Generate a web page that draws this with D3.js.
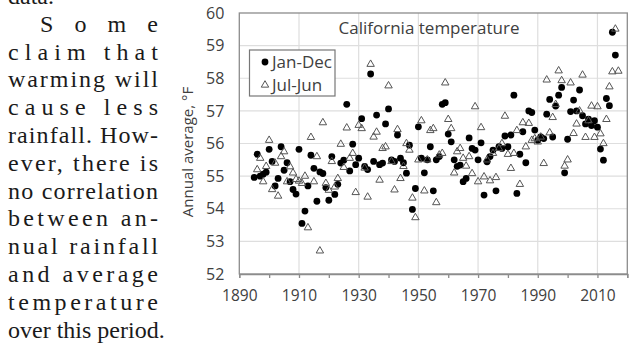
<!DOCTYPE html>
<html>
<head>
<meta charset="utf-8">
<script src="https://cdn.jsdelivr.net/npm/d3@7"></script>
<style>
  html, body { margin: 0; padding: 0; background: #fff; }
  svg { display: block; }
</style>
</head>
<body>
<div id="chart"></div>
<script>
// annual averages
const janDecYears = d3.range(1895, 2017);
const janDec = [
  54.96, 55.67, 55.00, 55.06, 55.12, 55.82, 55.45, 54.70, 54.93, 55.90,
  55.18, 55.41, 54.83, 54.59, 54.45, 55.82, 53.55, 53.93, 54.70, 55.64,
  55.24, 54.23, 55.13, 55.08, 54.65, 54.26, 55.60, 54.44, 54.75, 55.40,
  55.49, 57.20, 55.16, 55.98, 55.35, 55.55, 56.76, 55.30, 55.20, 58.13,
  55.45, 56.87, 55.35, 55.40, 56.60, 57.06, 55.50, 55.45, 56.26, 55.55,
  55.41, 55.09, 55.95, 53.98, 54.62, 56.51, 55.55, 55.10, 55.50, 55.90,
  54.55, 55.50, 55.60, 57.20, 57.25, 56.29, 56.05, 55.50, 55.30, 55.34,
  54.83, 54.93, 56.17, 55.85, 55.80, 55.50, 56.02, 54.42, 55.44, 55.60,
  55.80, 54.55, 55.90, 55.85, 56.23, 55.90, 56.26, 57.48, 54.47, 55.67,
  56.36, 55.41, 57.00, 56.95, 56.41, 56.10, 56.20, 56.15, 56.90, 57.35,
  56.20, 57.15, 57.48, 57.72, 55.10, 56.13, 56.98, 57.33, 57.00, 57.64,
  56.85, 56.60, 56.75, 56.55, 56.70, 56.50, 55.83, 55.49, 57.38, 57.16,
  59.41, 58.71
].slice(0, 122);
const julJunYears = d3.range(1896, 2018);
const julJun = [
  55.20, 55.55, 54.83, 55.30, 56.10, 54.59, 55.40, 54.39, 55.60, 55.75,
  54.83, 55.29, 55.10, 54.90, 54.85, 54.78, 55.00, 53.42, 56.19, 54.83,
  55.60, 52.71, 56.64, 54.78, 54.57, 55.45, 54.67, 54.93, 55.98, 55.27,
  56.48, 55.55, 55.70, 54.50, 56.56, 56.46, 55.25, 54.36, 58.43, 56.20,
  56.35, 54.88, 55.85, 55.90, 57.77, 55.45, 54.58, 56.43, 54.93, 55.30,
  56.00, 55.80, 54.33, 53.73, 55.50, 56.70, 54.55, 55.50, 56.40, 56.46,
  54.19, 55.65, 55.70, 57.86, 56.74, 56.46, 55.10, 55.75, 55.85, 55.55,
  55.31, 55.60, 55.08, 57.13, 54.83, 56.49, 54.98, 55.50, 54.86, 55.70,
  54.96, 55.85, 56.00, 56.84, 55.67, 55.24, 55.70, 56.40, 54.75, 56.64,
  55.90, 56.62, 56.10, 56.15, 56.05, 56.20, 55.39, 57.95, 56.33, 56.80,
  57.20, 58.23, 57.93, 55.31, 55.50, 57.86, 56.31, 56.60, 57.00, 58.10,
  56.19, 56.70, 57.15, 56.19, 57.13, 56.30, 56.00, 56.74, 57.74, 58.20,
  59.51, 58.22
];
const yTicks = [52, 53, 54, 55, 56, 57, 58, 59, 60];
const xLabelTicks = [1890, 1910, 1930, 1950, 1970, 1990, 2010];
const xMinorTicks = d3.range(1890, 2021, 10);
const seriesNames = ["Jan-Dec", "Jul-Jun"];

// the column of article text beside the chart
const textLines = [
  "data.", "Some", "claim that", "warming will", "cause less",
  "rainfall. How-", "ever, there is", "no correlation", "between an-",
  "nual rainfall", "and average", "temperature", "over this period."
];

const width = 633, height = 344;
const plot = {left: 239.3, right: 627.3, top: 13, bottom: 274};
const chartFont = "'Open Sans', 'Noto Sans', sans-serif";

const svg = d3.select("#chart").append("svg")
  .attr("width", width)
  .attr("height", height);

svg.append("rect").attr("width", width).attr("height", height).attr("fill", "#fff");

// article text
const textG = svg.append("g")
  .style("font-family", "'Liberation Serif', 'Times New Roman', serif")
  .style("font-size", "24px")
  .attr("fill", "#1a1a1a");

textLines.forEach((line, i) => {
  const first = i === 1;
  const last = i === textLines.length - 1;
  const t = textG.append("text")
    .attr("x", first ? 40 : 8)
    .attr("y", 3.9 + i * 27.8)
    .text(line);
  if (!last && i > 0) {
    t.attr("textLength", first ? 118 : 150).attr("lengthAdjust", "spacing");
  }
});

const x = d3.scaleLinear().domain([1890, 2020]).range([plot.left, plot.right]);
const y = d3.scaleLinear().domain([52, 60]).range([plot.bottom, plot.top]);

const g = svg.append("g");

// grid
g.append("g")
  .selectAll("line")
  .data(yTicks.slice(1, -1))
  .join("line")
  .attr("x1", plot.left).attr("x2", plot.right)
  .attr("y1", d => y(d)).attr("y2", d => y(d))
  .attr("stroke", "#dedede").attr("stroke-width", 1.2);

g.append("g")
  .selectAll("line")
  .data(xLabelTicks.slice(1))
  .join("line")
  .attr("x1", d => x(d)).attr("x2", d => x(d))
  .attr("y1", plot.top).attr("y2", plot.bottom)
  .attr("stroke", "#dedede").attr("stroke-width", 1.2);

// frame
g.append("rect")
  .attr("x", plot.left).attr("y", plot.top)
  .attr("width", plot.right - plot.left).attr("height", plot.bottom - plot.top)
  .attr("fill", "none").attr("stroke", "#8c8c8c").attr("stroke-width", 1.3);

// axes
const xAxis = d3.axisBottom(x)
  .tickValues(xMinorTicks)
  .tickSize(4)
  .tickPadding(12)
  .tickFormat(d => xLabelTicks.includes(d) ? String(d) : "");

g.append("g")
  .attr("transform", `translate(0,${plot.bottom})`)
  .call(xAxis)
  .call(a => a.select(".domain").attr("stroke", "#8c8c8c").attr("stroke-width", 1.3))
  .call(a => a.selectAll(".tick line").attr("stroke", "#8c8c8c").attr("stroke-width", 1.3))
  .call(a => a.selectAll("text")
    .attr("fill", "#404040")
    .style("font-family", chartFont)
    .style("font-size", "15.5px"));

const yAxis = d3.axisLeft(y)
  .tickValues(yTicks)
  .tickSize(0)
  .tickPadding(15)
  .tickFormat(d3.format("d"));

g.append("g")
  .attr("transform", `translate(${plot.left},0)`)
  .call(yAxis)
  .call(a => a.select(".domain").remove())
  .call(a => a.selectAll("text")
    .attr("fill", "#404040")
    .style("font-family", chartFont)
    .style("font-size", "16px"));

// axis title
svg.append("text")
  .attr("transform", `translate(193,152) rotate(-90)`)
  .attr("text-anchor", "middle")
  .attr("fill", "#404040")
  .style("font-family", chartFont)
  .style("font-size", "15px")
  .text("Annual average, °F");

// chart title
svg.append("text")
  .attr("x", 429).attr("y", 34)
  .attr("text-anchor", "middle")
  .attr("fill", "#404040")
  .style("font-family", chartFont)
  .style("font-size", "17px")
  .text("California temperature");

// points
const triangle = d3.symbol().type(d3.symbolTriangle).size(24);

g.append("g")
  .selectAll("circle")
  .data(janDec)
  .join("circle")
  .attr("cx", (d, i) => x(janDecYears[i]))
  .attr("cy", d => y(d))
  .attr("r", 3.4)
  .attr("fill", "#000");

g.append("g")
  .selectAll("path")
  .data(julJun)
  .join("path")
  .attr("d", triangle)
  .attr("transform", (d, i) => `translate(${x(julJunYears[i])},${y(d)})`)
  .attr("fill", "none")
  .attr("stroke", "#555")
  .attr("stroke-width", 1);

// legend
const legend = svg.append("g");
legend.append("rect")
  .attr("x", 249.5).attr("y", 50)
  .attr("width", 85.5).attr("height", 46)
  .attr("fill", "#fff").attr("stroke", "#777").attr("stroke-width", 1.2);

legend.append("circle").attr("cx", 265).attr("cy", 62).attr("r", 3.4).attr("fill", "#000");
legend.append("path")
  .attr("d", triangle)
  .attr("transform", "translate(265,85)")
  .attr("fill", "none").attr("stroke", "#555");

legend.selectAll("text.item")
  .data(seriesNames)
  .join("text")
  .attr("class", "item")
  .attr("x", 272)
  .attr("y", (d, i) => 62 + i * 23)
  .attr("dy", "0.35em")
  .attr("fill", "#404040")
  .style("font-family", chartFont)
  .style("font-size", "17px")
  .text(d => d);
</script>
</body>
</html>
